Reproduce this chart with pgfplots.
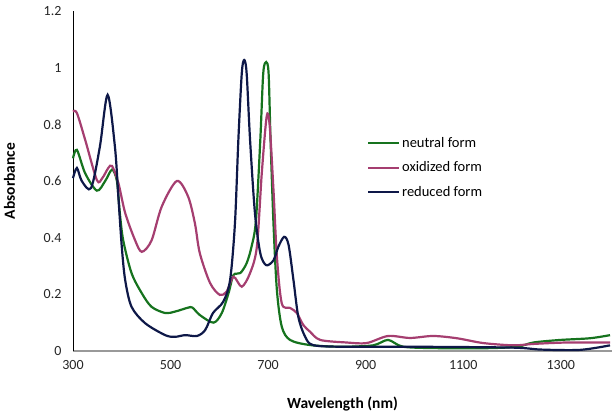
\documentclass[border=0pt]{standalone}
\usepackage{pgfplots}
\pgfplotsset{compat=1.18}
\usepackage{fontspec}
\setmainfont{Carlito}
\definecolor{cgreen}{RGB}{22,115,30}
\definecolor{cmag}{RGB}{165,62,112}
\definecolor{cnavy}{RGB}{14,24,72}
\begin{document}
\begin{tikzpicture}
\path[use as bounding box] (-73pt,-66pt) rectangle (541pt,351pt);
\begin{axis}[
  scale only axis, width=539pt, height=340pt,
  xmin=300, xmax=1405, ymin=0, ymax=1.2,
  axis x line*=bottom, axis y line*=left,
  x axis line style={draw=gray!80, line width=1.8pt, -},
  y axis line style={draw=black, line width=0.8pt, -},
  xtick={300,500,700,900,1100,1300},
  ytick={0,0.2,0.4,0.6,0.8,1,1.2},
  major tick length=0pt,
  /pgf/number format/assume math mode=true,
  /pgf/number format/1000 sep={},
  tick label style={font=\fontsize{14}{16}\selectfont, text=black!85},
  xticklabel style={yshift=-6pt},
  yticklabel style={xshift=-8pt},
  xlabel={\textbf{Wavelength (nm)}},
  ylabel={\textbf{Absorbance}},
  label style={font=\fontsize{15.5}{18}\selectfont},
  xlabel style={yshift=-20pt},
  ylabel style={yshift=22pt},
  legend style={draw=none, fill=none, at={(rel axis cs:0.545,0.635)}, anchor=north west,
    font=\fontsize{14.5}{17}\selectfont, row sep=9pt, inner sep=0pt},
  legend cell align=left,
  legend image code/.code={\draw[#1, line width=2.2pt] (0pt,0pt) -- (31pt,0pt);},
  every axis plot/.append style={line width=2.2pt, smooth, tension=0.5},
  clip=false,
]
\addplot[cgreen] coordinates {
(300,0.68)(308,0.71)(325,0.627)(349,0.566)(366,0.60)(380,0.64)(390,0.60)(396,0.487)(403,0.39)(420,0.275)(441,0.204)(461,0.156)(489,0.134)(509,0.139)(536,0.153)(545,0.153)(560,0.127)(588,0.10)(605,0.134)(619,0.205)(629,0.268)(643,0.275)(656,0.31)(666,0.368)(675,0.46)(684,0.745)(690,0.98)(696,1.02)(701,0.98)(705,0.745)(711,0.45)(718,0.215)(728,0.086)(745,0.039)(786,0.021)(850,0.015)(915,0.02)(946,0.039)(977,0.015)(1050,0.01)(1150,0.01)(1211,0.015)(1244,0.03)(1299,0.039)(1360,0.045)(1401,0.056)
};
\addlegendentry{neutral form}
\addplot[cmag] coordinates {
(300,0.845)(308,0.84)(325,0.745)(349,0.603)(360,0.61)(372,0.645)(380,0.653)(393,0.593)(407,0.487)(427,0.392)(441,0.35)(461,0.39)(482,0.51)(513,0.60)(536,0.545)(550,0.45)(560,0.345)(581,0.24)(601,0.198)(615,0.21)(629,0.262)(646,0.227)(663,0.275)(677,0.368)(687,0.627)(697,0.827)(703,0.80)(711,0.568)(718,0.333)(728,0.168)(745,0.152)(759,0.134)(772,0.092)(786,0.068)(807,0.039)(861,0.03)(902,0.028)(946,0.053)(991,0.046)(1038,0.053)(1087,0.045)(1141,0.028)(1203,0.02)(1244,0.025)(1313,0.03)(1401,0.03)
};
\addlegendentry{oxidized form}
\addplot[cnavy] coordinates {
(300,0.61)(308,0.646)(318,0.60)(337,0.575)(355,0.72)(371,0.904)(386,0.72)(393,0.545)(400,0.368)(407,0.25)(420,0.156)(448,0.098)(489,0.056)(509,0.05)(530,0.056)(554,0.053)(571,0.074)(587,0.134)(608,0.174)(622,0.25)(632,0.45)(639,0.745)(646,0.98)(651,1.027)(656,0.98)(663,0.745)(673,0.487)(684,0.345)(696,0.303)(711,0.32)(721,0.368)(733,0.403)(742,0.374)(752,0.25)(762,0.12)(776,0.05)(792,0.021)(850,0.015)(1000,0.015)(1200,0.012)(1260,0.005)(1340,0.004)(1401,0.02)
};
\addlegendentry{reduced form}
\end{axis}
\end{tikzpicture}
\end{document}
